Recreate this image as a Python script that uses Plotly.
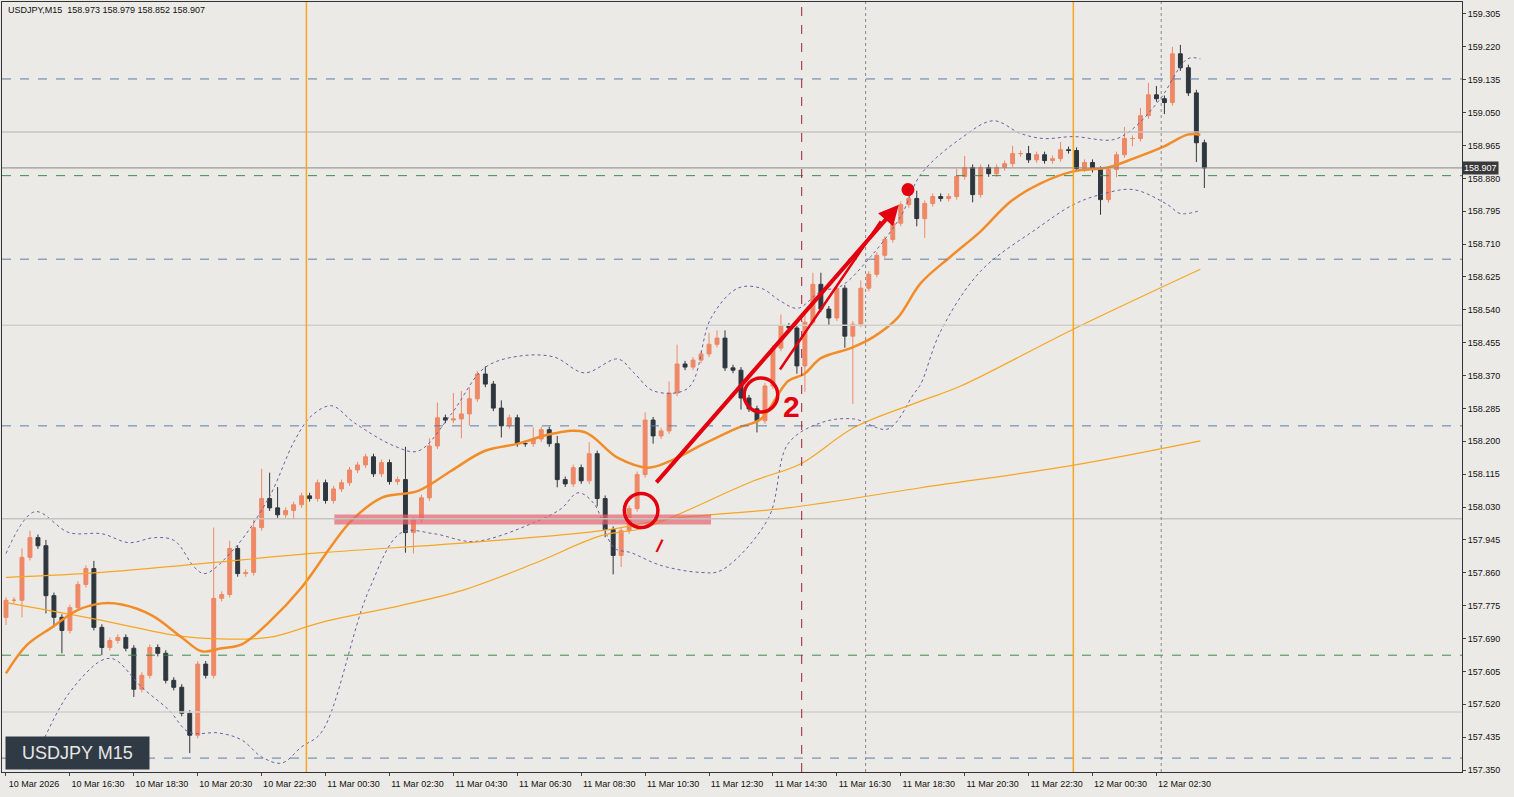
import plotly.graph_objects as go

# closes of each M15 candle, open = previous close
first_open = 157.745
closes = [157.789, 157.789, 157.900, 157.951, 157.930, 157.801, 157.745, 157.711, 157.770, 157.830,
          157.871, 157.719, 157.667, 157.685, 157.693, 157.665, 157.559, 157.595, 157.667, 157.652,
          157.582, 157.564, 157.497, 157.440, 157.624, 157.595, 157.794, 157.804, 157.923, 157.858,
          157.861, 157.977, 158.052, 158.028, 158.010, 158.021, 158.036, 158.059, 158.052, 158.093,
          158.047, 158.077, 158.093, 158.126, 158.139, 158.160, 158.116, 158.145, 158.096, 158.101,
          157.964, 157.998, 158.054, 158.188, 158.261, 158.255, 158.258, 158.271, 158.310, 158.374,
          158.348, 158.286, 158.240, 158.261, 158.194, 158.194, 158.206, 158.230, 158.194, 158.101,
          158.090, 158.132, 158.098, 158.168, 158.052, 157.972, 157.905, 157.969, 158.026, 158.114,
          158.255, 158.214, 158.227, 158.325, 158.400, 158.392, 158.410, 158.426, 158.451, 158.467,
          158.390, 158.384, 158.312, 158.284, 158.253, 158.343, 158.441, 158.498, 158.493, 158.395,
          158.508, 158.606, 158.542, 158.519, 158.596, 158.472, 158.503, 158.596, 158.632, 158.681,
          158.722, 158.764, 158.812, 158.828, 158.776, 158.815, 158.833, 158.828, 158.833, 158.885,
          158.908, 158.838, 158.908, 158.892, 158.908, 158.918, 158.944, 158.944, 158.928, 158.941,
          158.926, 158.931, 158.954, 158.952, 158.905, 158.921, 158.903, 158.825, 158.903, 158.941,
          158.983, 158.983, 159.042, 159.096, 159.086, 159.076, 159.202, 159.166, 159.101, 158.972,
          158.907]

base_wick = 0.008
upper_wick = {2: 0.023, 3: 0.018, 5: 0.015, 11: 0.02, 26: 0.183, 28: 0.02, 31: 0.02, 32: 0.077,
              33: 0.067, 34: 0.054, 50: 0.085, 53: 0.02, 54: 0.039, 56: 0.067, 57: 0.059, 58: 0.03,
              60: 0.02, 62: 0.02, 66: 0.03, 69: 0.02, 73: 0.03, 80: 0.02, 83: 0.03, 84: 0.05,
              88: 0.03, 89: 0.02, 90: 0.02, 97: 0.03, 100: 0.03, 101: 0.03, 102: 0.03, 107: 0.02,
              113: 0.02, 114: 0.02, 119: 0.02, 120: 0.03, 126: 0.02, 128: 0.02, 132: 0.02,
              140: 0.03, 142: 0.02, 143: 0.031, 144: 0.023, 146: 0.018, 147: 0.023}
lower_wick = {0: 0.02, 2: 0.044, 5: 0.046, 6: 0.026, 7: 0.059, 12: 0.02, 16: 0.02, 23: 0.046,
              36: 0.02, 50: 0.052, 51: 0.054, 57: 0.05, 58: 0.03, 62: 0.03, 69: 0.02, 74: 0.02,
              75: 0.02, 76: 0.049, 77: 0.03, 81: 0.02, 92: 0.03, 94: 0.03, 99: 0.02, 100: 0.067,
              103: 0.02, 105: 0.03, 106: 0.175, 114: 0.02, 115: 0.05, 121: 0.02, 137: 0.039,
              139: 0.02, 141: 0.02, 145: 0.03, 149: 0.05, 150: 0.052}

# indicator lines (candle index, price)
ma_fast_x = [0, 2.6, 5.75, 8.9, 12, 14.5, 18.25, 22, 24.5, 27, 29.5, 32.9, 37, 40.75, 43.25, 47,
             51.6, 55.75, 59.9, 64.1, 68.25, 72.4, 76.6, 80.4, 83.25, 87.4, 91.6, 94.5, 97.9, 99.9,
             102, 105.75, 108.6, 111.6, 114.5, 118.25, 122, 125.75, 129.5, 133.6, 137.9, 141.1,
             144.9, 147.9, 149.5]
ma_fast_y = [157.600, 157.673, 157.719, 157.763, 157.781, 157.778, 157.750, 157.693, 157.657,
             157.665, 157.675, 157.732, 157.822, 157.930, 157.995, 158.054, 158.072, 158.124,
             158.175, 158.194, 158.219, 158.224, 158.157, 158.132, 158.150, 158.194, 158.235,
             158.258, 158.356, 158.374, 158.415, 158.441, 158.470, 158.519, 158.609, 158.678,
             158.743, 158.820, 158.867, 158.898, 158.908, 158.931, 158.962, 158.993, 158.993]
ma_mid_x = [0, 12, 20.4, 24.5, 32.9, 39.5, 49.5, 57, 66.1, 74.5, 79.5, 83.25, 93.6, 99.5, 106.1,
            114.5, 119.5, 133.6, 149.5]
ma_mid_y = [157.783, 157.737, 157.701, 157.691, 157.693, 157.732, 157.776, 157.814, 157.884,
            157.956, 157.974, 158.003, 158.098, 158.142, 158.235, 158.304, 158.343, 158.490, 158.645]
ma_slow_x = [0, 12, 24.5, 39.5, 57.9, 74.5, 83.25, 97.9, 114.5, 133.3, 149.5]
ma_slow_y = [157.848, 157.861, 157.884, 157.912, 157.938, 157.969, 158.000, 158.028, 158.080,
             158.137, 158.201]
bb_up_x = [0, 3.6, 7.9, 12, 15.4, 18.6, 21.1, 23.6, 24.9, 28.6, 32.9, 36.1, 38.25, 40.75, 43.6,
           48.6, 51.6, 55.75, 59.9, 64.1, 68.6, 72.4, 76.6, 78.6, 81.1, 85.4, 88.25, 91.6, 94.5,
           97, 99.1, 102, 104.5, 108.25, 112, 114.5, 119.5, 123.6, 127, 129.9, 133.6, 138.6, 141.1,
           144.5, 147.9, 149.5]
bb_up_y = [157.910, 158.018, 157.964, 157.961, 157.938, 157.951, 157.943, 157.874, 157.858,
           157.923, 158.054, 158.201, 158.266, 158.292, 158.248, 158.188, 158.175, 158.271,
           158.390, 158.420, 158.418, 158.377, 158.413, 158.377, 158.330, 158.338, 158.519,
           158.596, 158.596, 158.562, 158.544, 158.588, 158.601, 158.678, 158.782, 158.890,
           158.983, 159.029, 158.996, 158.983, 158.988, 158.980, 159.009, 159.086, 159.189, 159.189]
bb_lo_x = [2.6, 4.5, 7.9, 12, 13.6, 17, 20.4, 22.9, 26.6, 29.5, 32, 34.5, 37, 39.5, 45.4, 49.5,
           53.6, 58.6, 66.1, 69.5, 71.6, 73.6, 76.1, 78.25, 82, 87, 89.5, 95.4, 97.9, 102, 106.1,
           110.4, 113.6, 114.5, 117, 122, 129.1, 133.6, 137, 141.1, 145.4, 147, 149.5]
bb_lo_y = [157.337, 157.420, 157.549, 157.634, 157.636, 157.564, 157.505, 157.448, 157.446,
           157.428, 157.384, 157.368, 157.410, 157.448, 157.814, 157.964, 157.961, 157.941,
           157.990, 158.026, 158.067, 158.039, 157.925, 157.912, 157.879, 157.861, 157.866,
           158.000, 158.194, 158.248, 158.258, 158.232, 158.322, 158.348, 158.485, 158.640,
           158.751, 158.812, 158.838, 158.851, 158.812, 158.789, 158.797]

tick_pos = [0, 8, 16, 24, 32, 40, 48, 56, 64, 72, 80, 88, 96, 104, 112, 120, 128, 136, 144]
tick_text = ["10 Mar 2026", "10 Mar 16:30", "10 Mar 18:30", "10 Mar 20:30", "10 Mar 22:30",
             "11 Mar 00:30", "11 Mar 02:30", "11 Mar 04:30", "11 Mar 06:30", "11 Mar 08:30",
             "11 Mar 10:30", "11 Mar 12:30", "11 Mar 14:30", "11 Mar 16:30", "11 Mar 18:30",
             "11 Mar 20:30", "11 Mar 22:30", "12 Mar 00:30", "12 Mar 02:30"]
price_ticks = [round(157.350 + 0.085 * k, 3) for k in range(24)]

opens = [first_open] + closes[:-1]
idx = list(range(len(closes)))
highs = [max(o, c) + upper_wick.get(i, base_wick) for i, (o, c) in enumerate(zip(opens, closes))]
lows = [min(o, c) - lower_wick.get(i, base_wick) for i, (o, c) in enumerate(zip(opens, closes))]

BULL = "#EE8866"
BEAR = "#2E363E"
RED = "#E3000F"

fig = go.Figure()
fig.add_trace(go.Scatter(x=bb_up_x, y=bb_up_y, mode="lines",
                         line=dict(color="#6B5FA5", width=1, dash="dot", shape="spline")))
fig.add_trace(go.Scatter(x=bb_lo_x, y=bb_lo_y, mode="lines",
                         line=dict(color="#6B5FA5", width=1, dash="dot", shape="spline")))
fig.add_trace(go.Scatter(x=ma_slow_x, y=ma_slow_y, mode="lines",
                         line=dict(color="#F5A623", width=1.2, shape="spline")))
fig.add_trace(go.Scatter(x=ma_mid_x, y=ma_mid_y, mode="lines",
                         line=dict(color="#F5A623", width=1.2, shape="spline")))
fig.add_trace(go.Scatter(x=ma_fast_x, y=ma_fast_y, mode="lines",
                         line=dict(color="#F28C28", width=2.5, shape="spline")))
# pink support zone
fig.add_trace(go.Scatter(x=[41.1, 88.25], y=[157.998, 157.998], mode="lines",
                         line=dict(color="rgba(230,100,110,0.7)", width=10)))
fig.add_trace(go.Candlestick(
    x=idx, open=opens, high=highs, low=lows, close=closes,
    increasing=dict(line=dict(color=BULL, width=1), fillcolor=BULL),
    decreasing=dict(line=dict(color=BEAR, width=1), fillcolor=BEAR),
    whiskerwidth=0, hoverinfo="skip"))
fig.add_trace(go.Scatter(x=[112.9], y=[158.851], mode="markers",
                         marker=dict(color=RED, size=13)))

shapes = []
for lvl, col in [(157.5, "#D0CFCB"), (158.5, "#D0CFCB"), (158.0, "#C4C3C0"), (159.0, "#C4C3C0")]:
    shapes.append(dict(type="line", xref="paper", x0=0, x1=1, y0=lvl, y1=lvl,
                       line=dict(color=col, width=1.5)))
for lvl in [159.137, 158.671, 158.240, 157.381]:
    shapes.append(dict(type="line", xref="paper", x0=0, x1=1, y0=lvl, y1=lvl,
                       line=dict(color="#5C7EA8", width=1, dash="dash")))
for lvl in [158.887, 157.647]:
    shapes.append(dict(type="line", xref="paper", x0=0, x1=1, y0=lvl, y1=lvl,
                       line=dict(color="#3E8A4E", width=1, dash="dash")))
shapes.append(dict(type="line", xref="paper", x0=0, x1=1, y0=158.907, y1=158.907,
                   line=dict(color="#8A8A8A", width=1)))
for xv in [37.6, 133.6]:
    shapes.append(dict(type="line", yref="paper", x0=xv, x1=xv, y0=0, y1=1,
                       line=dict(color="#F5A623", width=1.5)))
shapes.append(dict(type="line", yref="paper", x0=99.6, x1=99.6, y0=0, y1=1,
                   line=dict(color="#9B2335", width=1, dash="dash")))
for xv in [107.6, 144.6]:
    shapes.append(dict(type="line", yref="paper", x0=xv, x1=xv, y0=0, y1=1,
                       line=dict(color="#8A8A8A", width=1, dash="dot")))
shapes.append(dict(type="circle", x0=77.4, x1=81.6, y0=157.977, y1=158.065,
                   line=dict(color=RED, width=3.5)))
shapes.append(dict(type="circle", x0=92.4, x1=96.6, y0=158.276, y1=158.364,
                   line=dict(color=RED, width=3.5)))

annotations = [
    dict(x=111.75, y=158.812, ax=81.25, ay=158.090, xref="x", yref="y", axref="x", ayref="y",
         showarrow=True, arrowhead=2, arrowsize=1, arrowwidth=4, arrowcolor=RED, text=""),
    dict(x=109.5, y=158.769, ax=96.75, ay=158.382, xref="x", yref="y", axref="x", ayref="y",
         showarrow=True, arrowhead=0, arrowwidth=2.5, arrowcolor=RED, text=""),
    dict(x=98.3, y=158.289, text="<b>2</b>", showarrow=False,
         font=dict(color=RED, size=30, family="Liberation Sans")),
    dict(x=81.75, y=157.930, text="<b>/</b>", showarrow=False, textangle=15,
         font=dict(color=RED, size=18, family="Liberation Sans")),
    dict(xref="paper", yref="paper", x=0.003, y=0.999, xanchor="left", yanchor="top",
         text="USDJPY,M15  158.973 158.979 158.852 158.907", showarrow=False,
         font=dict(size=9, color="#111111", family="Liberation Sans")),
    dict(xref="paper", yref="paper", x=0.002, y=0.002, xanchor="left", yanchor="bottom",
         text="  USDJPY M15  ", showarrow=False, bgcolor="#2F3A44", borderpad=6,
         font=dict(size=18, color="#E6E6E6", family="Liberation Sans")),
    dict(xref="paper", x=1.0, y=158.907, xanchor="left", yanchor="middle", text="158.907",
         showarrow=False, bgcolor="#3A3A3A", font=dict(size=9, color="white", family="Liberation Sans")),
]

fig.update_layout(
    width=1514, height=797, showlegend=False,
    margin=dict(l=2, r=52, t=2, b=25),
    paper_bgcolor="#ECEAE6", plot_bgcolor="#ECEAE6",
    shapes=shapes, annotations=annotations, hovermode=False,
    xaxis=dict(range=[-0.5, 182.25], tickvals=tick_pos, ticktext=tick_text, tickangle=0,
               showgrid=False, zeroline=False, rangeslider=dict(visible=False),
               showline=True, mirror=True, linecolor="#333333", ticks="outside", ticklen=3,
               tickfont=dict(size=9, color="#111111", family="Liberation Sans"),
               ticklabelshift=28),
    yaxis=dict(range=[157.345, 159.336], side="right", tickvals=price_ticks, tickformat=".3f",
               showgrid=False, zeroline=False, showline=True, mirror=True, linecolor="#333333",
               ticks="outside", ticklen=3,
               tickfont=dict(size=9, color="#111111", family="Liberation Sans")),
)

fig.write_html("out.html", config={"displayModeBar": False},
               post_script="document.body.style.margin='0';document.body.style.overflow='hidden';")
